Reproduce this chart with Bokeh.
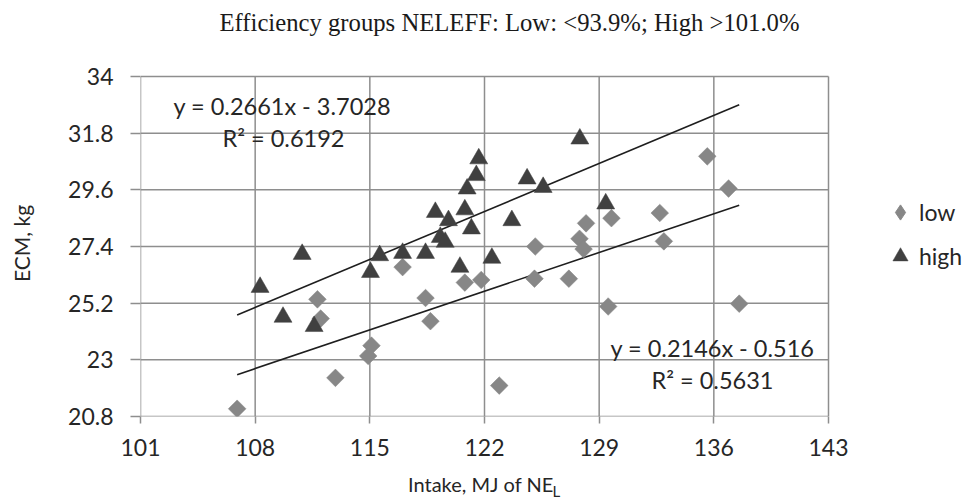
import math
from bokeh.plotting import figure
from bokeh.models import (Range1d, FixedTicker, Label, Legend, LegendItem, LinearAxis)
from bokeh.embed import file_html
from bokeh.resources import INLINE

# ---- data ----
low_x = [106.9, 111.8, 112.0, 115.1, 114.9, 112.9, 117.0, 118.4, 118.7, 120.8,
         121.8, 122.9, 125.1, 125.05, 127.15, 127.8, 128.05, 128.2, 129.75, 129.55,
         132.7, 132.95, 135.6, 136.9, 137.55]
low_y = [21.1, 25.35, 24.6, 23.55, 23.15, 22.3, 26.6, 25.4, 24.5, 26.0,
         26.1, 22.0, 27.4, 26.15, 26.15, 27.7, 27.3, 28.3, 28.5, 25.07,
         28.7, 27.6, 30.9, 29.65, 25.18]

high_x = [108.3, 109.7, 110.87, 111.6, 115.04, 115.6, 117.0, 118.4, 119.0, 119.3,
          119.6, 119.8, 120.5, 120.8, 120.94, 121.2, 121.5, 121.65, 122.45, 123.67,
          124.6, 125.58, 127.82, 129.4]
high_y = [25.82, 24.66, 27.1, 24.3, 26.4, 27.05, 27.14, 27.14, 28.73, 27.76,
          27.57, 28.41, 26.6, 28.83, 29.64, 28.09, 30.16, 30.81, 26.95, 28.41,
          30.03, 29.7, 31.58, 29.06]

# trendline coefficients (as printed on the chart)
high_slope, high_intercept = 0.2661, -3.7028
low_slope, low_intercept = 0.2146, -0.516

x_ticks = [101, 108, 115, 122, 129, 136, 143]
y_ticks = [20.8, 23, 25.2, 27.4, 29.6, 31.8, 34]
y_tick_labels = ["20.8", "23", "25.2", "27.4", "29.6", "31.8", "34"]

title_text = "Efficiency groups NELEFF: Low: <93.9%; High >101.0%"
eq_high = "y = 0.2661x - 3.7028"
r2_high = "R\u00b2 = 0.6192"
eq_low = "y = 0.2146x - 0.516"
r2_low = "R\u00b2 = 0.5631"
x_label = "Intake, MJ of NE"
x_label_sub = "L"
y_label = "ECM, kg"
series_names = ["low", "high"]

# ---- layout / style ----
W, H = 964, 503
PLOT_LEFT, PLOT_RIGHT, PLOT_TOP, PLOT_BOTTOM = 140, 828, 76, 416
GRID = "#8e8e8e"
FONT = "Lato"
TXT = "#262626"
LOW_C = "#878787"
HIGH_C = "#404040"
NBSP = "\u00a0"

# the frame reaches the top and right edges of the canvas so that the title
# and legend (drawn inside it) are not clipped; the plot area itself spans
# the tick ranges
x0, x1 = x_ticks[0], x_ticks[-1]
y0, y1 = y_ticks[0], y_ticks[-1]
x_end = x1 + (W - PLOT_RIGHT) * (x1 - x0) / (PLOT_RIGHT - PLOT_LEFT)
y_end = y1 + PLOT_TOP * (y1 - y0) / (PLOT_BOTTOM - PLOT_TOP)

p = figure(width=W, height=H, output_backend="svg", toolbar_location=None,
           x_range=Range1d(x0, x_end), y_range=Range1d(y0, y_end),
           min_border_left=PLOT_LEFT, min_border_right=0, min_border_top=0,
           min_border_bottom=H - PLOT_BOTTOM)
p.background_fill_color = "white"
p.border_fill_color = "white"
p.outline_line_color = None
p.xgrid.grid_line_color = None
p.ygrid.grid_line_color = None

# axes (ticks and labels only; the box is drawn by the grid segments)
p.xaxis.ticker = FixedTicker(ticks=x_ticks)
p.yaxis.ticker = FixedTicker(ticks=y_ticks)
p.yaxis.major_label_overrides = {v: s for v, s in zip(y_ticks, y_tick_labels)}
for ax in (p.xaxis[0], p.yaxis[0]):
    ax.axis_line_color = None
    ax.major_tick_line_color = GRID
    ax.major_tick_line_width = 1.5
    ax.major_tick_in = 0
    ax.minor_tick_line_color = None
    ax.major_label_text_font = FONT
    ax.major_label_text_font_size = "23px"
    ax.major_label_text_color = TXT
    ax.axis_label_text_font = FONT
    ax.axis_label_text_font_style = "normal"
    ax.axis_label_text_color = TXT
p.xaxis.major_tick_out = 7
p.yaxis.major_tick_out = 10
p.xaxis.major_label_standoff = 15
p.yaxis.major_label_standoff = 17
# centred under the frame; trailing no-break spaces shift it over the plot area
p.xaxis.axis_label = x_label + NBSP * 28
p.xaxis.axis_label_text_font_size = "20px"
p.xaxis.axis_label_standoff = 13
p.yaxis.axis_label = y_label + NBSP * 13
p.yaxis.axis_label_text_font_size = "21px"
p.yaxis.axis_label_standoff = 31

# subscript of the x-axis label: an extra label-only axis
sub_ax = LinearAxis(ticker=FixedTicker(ticks=[]), axis_line_color=None,
                    major_tick_out=0, major_tick_in=0, minor_tick_out=0,
                    major_label_text_font_size="0px",
                    axis_label=NBSP * 2 + x_label_sub,
                    axis_label_text_font=FONT, axis_label_text_font_size="15px",
                    axis_label_text_font_style="normal", axis_label_text_color=TXT,
                    axis_label_standoff=-17)
p.add_layout(sub_ax, "below")

# grid / plot-area box
p.segment(x0=[x0] * len(y_ticks), y0=y_ticks, x1=[x1] * len(y_ticks), y1=y_ticks,
          line_color=GRID, line_width=1.5)
p.segment(x0=x_ticks, y0=[y0] * len(x_ticks), x1=x_ticks, y1=[y1] * len(x_ticks),
          line_color=GRID, line_width=1.5)

# trendlines
xmin = min(low_x + high_x)
xmax = max(low_x + high_x)
p.line([xmin, xmax], [high_slope * xmin + high_intercept, high_slope * xmax + high_intercept],
       line_color="#1e1e1e", line_width=1.6)
p.line([xmin, xmax], [low_slope * xmin + low_intercept, low_slope * xmax + low_intercept],
       line_color="#1e1e1e", line_width=1.6)

# points
r_low = p.scatter(low_x, low_y, marker="square", size=12.5, angle=math.pi / 4,
                  fill_color=LOW_C, line_color=LOW_C, line_width=0.5)
r_high = p.scatter(high_x, high_y, marker="triangle", size=18,
                   fill_color=HIGH_C, line_color=HIGH_C, line_width=0.5)
# legend swatch for the diamonds (legend glyphs ignore marker angle)
r_low_key = p.scatter(low_x[:1], low_y[:1], marker="diamond", size=12,
                      fill_color=LOW_C, line_color=LOW_C, visible=False)

legend = Legend(items=[LegendItem(label=series_names[0], renderers=[r_low_key]),
                       LegendItem(label=series_names[1], renderers=[r_high])],
                location=(741, 141), padding=0, margin=0, spacing=6,
                glyph_width=38, glyph_height=38, label_height=38,
                label_standoff=0, border_line_color=None,
                background_fill_alpha=0,
                label_text_font=FONT, label_text_font_size="23px",
                label_text_color=TXT)
p.add_layout(legend)

def lab(text, x, y, size, font=FONT, align="left", color=TXT):
    p.add_layout(Label(x=x, y=y, x_units="screen", y_units="screen", text=text,
                       text_font=font, text_font_size=size, text_align=align,
                       text_baseline="middle", text_color=color))

# trendline equations
lab(eq_high, 33, 311, "23.5px")
lab(r2_high, 82, 279, "23.5px")
lab(eq_low, 470, 69, "23.5px")
lab(r2_low, 511, 37, "23.5px")

# title
lab(title_text, 369, 394, "24.7px", font="Liberation Serif", align="center", color="#1a1a1a")

open("out.html", "w").write(file_html(p, INLINE))
